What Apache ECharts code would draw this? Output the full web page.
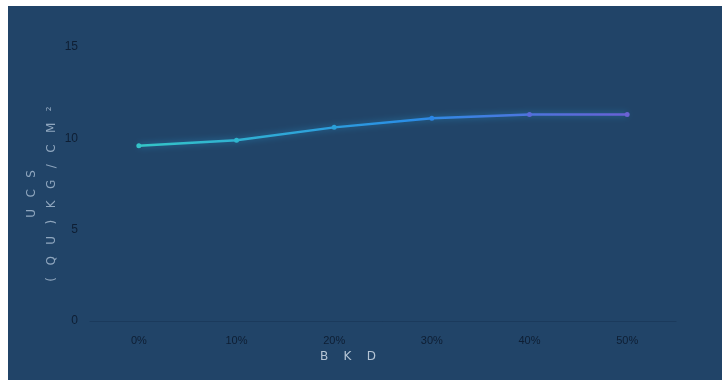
<!DOCTYPE html>
<html><head><meta charset="utf-8">
<script src="https://cdn.jsdelivr.net/npm/echarts@6/dist/echarts.min.js"></script>
<style>html,body{margin:0;padding:0;background:#fff}#c{width:728px;height:385px}</style>
</head><body><div id="c"></div>
<script>
const categories = ['0%','10%','20%','30%','40%','50%'];
const ucsValues = [9.6, 9.9, 10.6, 11.1, 11.3, 11.3];
const yTicks = [0, 5, 10, 15];
const pointColors = ['#34c3c8','#2fb6cf','#2a9fd8','#2b86e6','#5a6ad9','#6b62d4'];

const chart = echarts.init(document.getElementById('c'));
chart.setOption({
  backgroundColor: '#ffffff',
  graphic: [{type:'rect', left: 8, top: 6, shape:{width:714, height:374}, style:{fill:'#214468'}, z:-10}],
  grid: {left: 90, right: 52, top: 47, bottom: 64},
  xAxis: {
    type: 'category', data: categories, boundaryGap: true,
    name: 'B    K    D', nameLocation: 'middle', nameGap: 30,
    nameTextStyle: {color:'#b4c4d4', fontSize: 12, padding:[0,70,0,0], fontFamily:'DejaVu Sans'},
    axisLine: {lineStyle:{color:'#1b3a5c'}}, axisTick:{show:false},
    axisLabel: {color:'#0e1e33', fontSize: 11, margin: 14}
  },
  yAxis: {
    type: 'value', min: yTicks[0], max: yTicks[yTicks.length-1], interval: 5,
    name: 'U   C   S\n(   Q   U   )   K   G   /   C   M   ²', nameLocation: 'middle', nameGap: 28, nameRotate: 90,
    nameMoveOverlap: false,
    nameTextStyle: {color:'#8fa6be', fontSize: 12, lineHeight: 20, fontFamily:'DejaVu Sans', padding:[0,0,0,-20]},
    axisLine:{show:false}, axisTick:{show:false},
    splitLine:{show:false},
    axisLabel:{color:'#0e1e33', fontSize: 12, margin: 12}
  },
  series: [{
    type: 'line', data: ucsValues, symbol: 'circle', symbolSize: 5,
    lineStyle: {width: 2.5,
      color: new echarts.graphic.LinearGradient(0,0,1,0,[
        {offset:0,color:'#34c6c6'},{offset:0.55,color:'#2a8ee6'},{offset:1,color:'#6a60d6'}]),
      shadowColor:'rgba(40,170,230,0.5)', shadowBlur: 6},
    itemStyle: {color: p => pointColors[p.dataIndex]}
  }]
});
</script></body></html>
